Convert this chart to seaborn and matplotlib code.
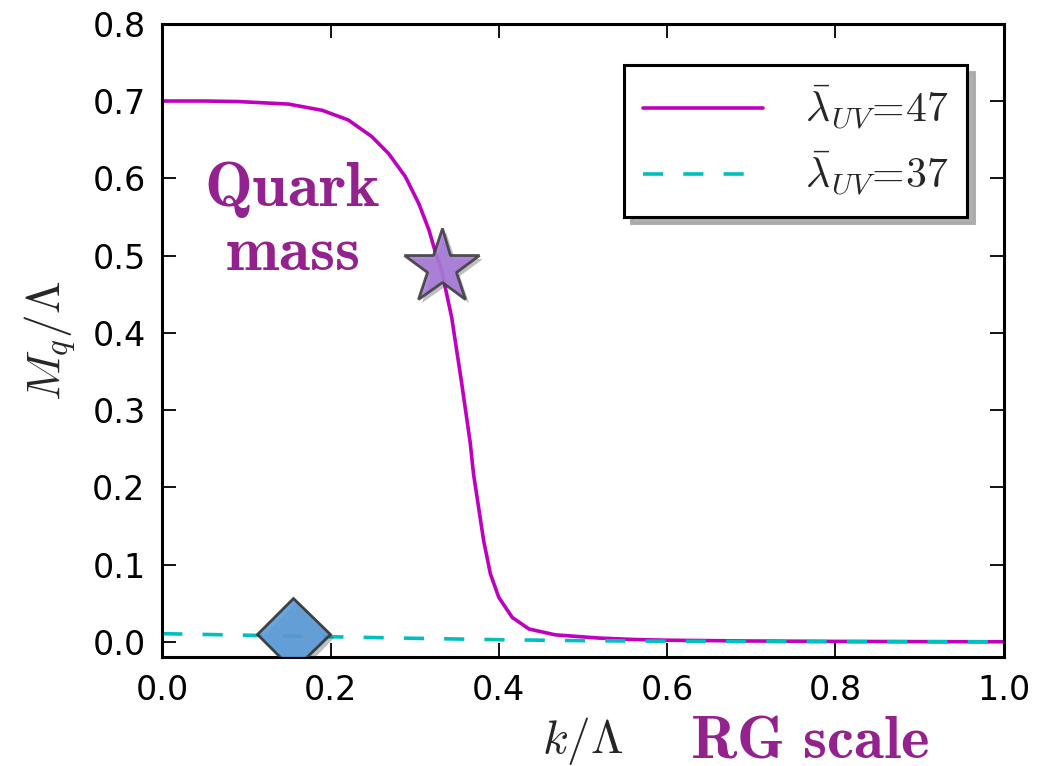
import numpy as np
import pandas as pd
import matplotlib
matplotlib.use("Agg")
import matplotlib.pyplot as plt
import matplotlib.patheffects as pe
import seaborn as sns

# ---- data ----
k_47 = [0.0, 0.05, 0.09, 0.15, 0.19, 0.221, 0.249, 0.269, 0.289, 0.305, 0.317,
        0.325, 0.332, 0.344, 0.356, 0.366, 0.370, 0.376, 0.382, 0.390, 0.400,
        0.416, 0.436, 0.467, 0.519, 0.56, 0.60, 0.70, 0.80, 0.90, 1.00]
m_47 = [0.700, 0.700, 0.6993, 0.696, 0.688, 0.6755, 0.654, 0.632, 0.602, 0.567,
        0.533, 0.503, 0.481, 0.420, 0.334, 0.258, 0.217, 0.174, 0.131, 0.088,
        0.0575, 0.0315, 0.0165, 0.009, 0.0048, 0.003, 0.002, 0.001, 0.0005,
        0.0002, 0.0]
k_37 = [0.0, 0.1, 0.2, 0.3, 0.4, 0.5, 0.6, 0.7, 0.8, 0.9, 1.0]
m_37 = [0.0105, 0.0085, 0.0065, 0.0045, 0.0027, 0.0014, 0.0007, 0.0003, 0.0001, 0.0, 0.0]
labels = [r'$\bar{\lambda}_{UV}\!=\!47$', r'$\bar{\lambda}_{UV}\!=\!37$']
star_pt = (0.332, 0.485)
diamond_pt = (0.156, 0.010)
x_ticks = [0.0, 0.2, 0.4, 0.6, 0.8, 1.0]
y_ticks = [0.0, 0.1, 0.2, 0.3, 0.4, 0.5, 0.6, 0.7, 0.8]

sns.set_style("ticks")
plt.rcParams['font.family'] = ['DejaVu Sans']
plt.rcParams['mathtext.fontset'] = 'cm'
plt.rcParams['lines.scale_dashes'] = False

fig = plt.figure(figsize=(10.4, 7.66), dpi=100)
ax = fig.add_axes([0.156, 0.142, 0.809, 0.827])

df47 = pd.DataFrame({'k': k_47, 'M': m_47})
df37 = pd.DataFrame({'k': k_37, 'M': m_37})
sns.lineplot(data=df47, x='k', y='M', ax=ax, color=(0.75, 0, 0.75), linewidth=2.6,
             label=labels[0], estimator=None, sort=True)
sns.lineplot(data=df37, x='k', y='M', ax=ax, color=(0, 0.75, 0.75), linewidth=2.6,
             linestyle=(0, (14.5, 14.5)), label=labels[1], estimator=None, sort=True)

shadow = [pe.SimplePatchShadow(offset=(3, -3), alpha=0.3), pe.Normal()]
ax.plot([star_pt[0]], [star_pt[1]], marker='*', ms=57, mfc='#a67bd8',
        mec='#404040', mew=2, alpha=0.9, ls='none', zorder=5, path_effects=shadow)
ax.plot([diamond_pt[0]], [diamond_pt[1]], marker='D', ms=37, mfc='#5b9bd8',
        mec='#333333', mew=2, alpha=0.9, ls='none', zorder=5, path_effects=shadow)

ax.set_xlim(0, 1.0)
ax.set_ylim(-0.02, 0.8)
ax.set_xticks(x_ticks)
ax.set_yticks(y_ticks)
ax.set_xticklabels([f'{v:.1f}' for v in x_ticks])
ax.set_yticklabels([f'{v:.1f}' for v in y_ticks])
ax.tick_params(direction='in', length=10, width=1.3, labelsize=24, pad=12,
               top=True, right=True, colors='black')
for s in ax.spines.values():
    s.set_linewidth(2.2)
    s.set_color('black')
    s.set_visible(True)

ax.set_xlabel(r'$k/\Lambda$', fontsize=34, labelpad=6)
ax.set_ylabel(r'$M_q/\Lambda$', fontsize=34, labelpad=10)

purple = '#93228f'
ax.text(0.155, 0.545, r'$\mathbf{Quark}$' + '\n' + r'$\mathbf{mass}$', color=purple,
        fontsize=46, ha='center', va='center', linespacing=1.02)
fig.text(0.778, 0.011, r'$\mathbf{RG\ scale}$', color=purple, fontsize=44,
         ha='center', va='baseline')

leg = ax.legend(loc='upper right', bbox_to_anchor=(0.957, 0.935), borderaxespad=0,
                fontsize=30, frameon=True, fancybox=False,
                shadow={'ox': 5, 'oy': -5, 'color': '#a8a8a8', 'alpha': 0.9},
                handlelength=2.9, borderpad=0.45, labelspacing=0.4,
                handletextpad=1.0)
leg.get_frame().set_edgecolor('black')
leg.get_frame().set_linewidth(2.2)
leg.get_frame().set_alpha(1)

fig.savefig('out.png', dpi=100)
